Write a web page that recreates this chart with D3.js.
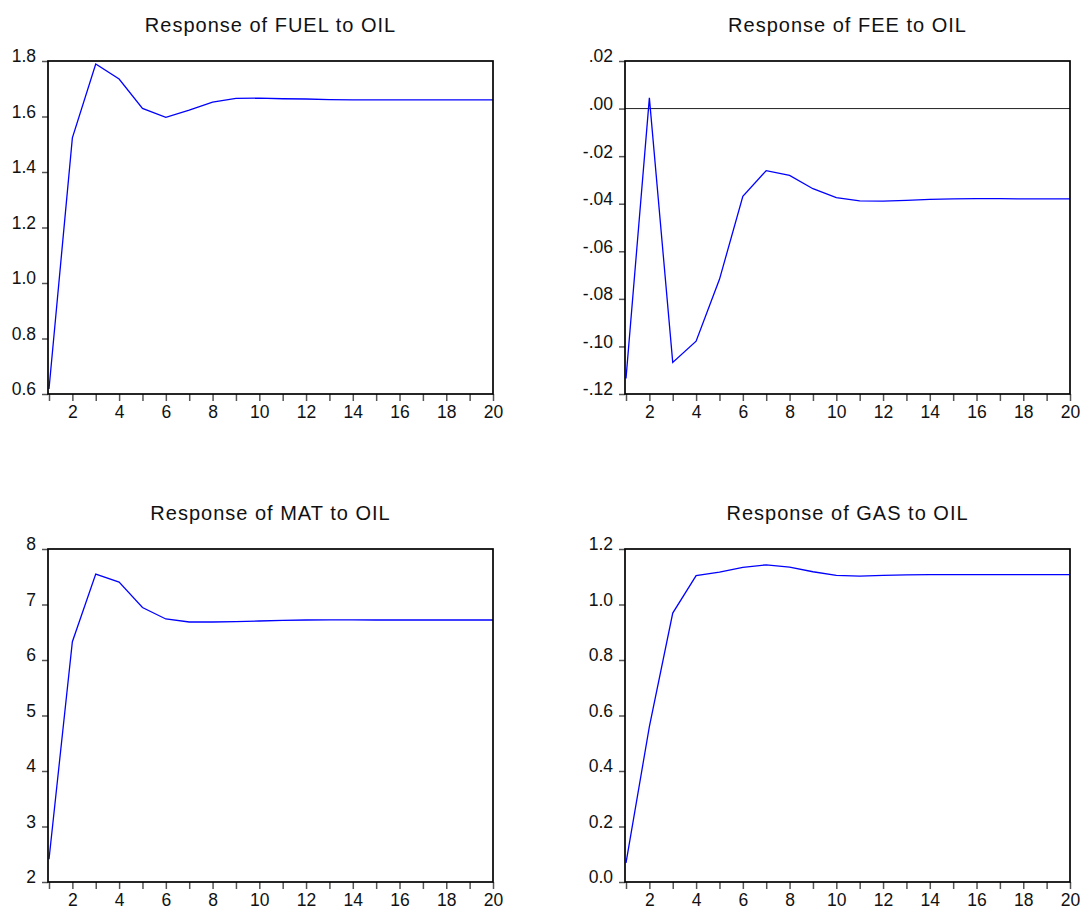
<!DOCTYPE html>
<html>
<head>
<meta charset="utf-8">
<script src="https://cdn.jsdelivr.net/npm/d3@7"></script>
<style>
  html, body { margin: 0; padding: 0; background: #fff; }
  svg { display: block; }
</style>
</head>
<body>
<svg id="chart" width="1082" height="910"></svg>
<script>
// impulse response horizon
const periods = d3.range(1, 21);
const xTickLabels = [2, 4, 6, 8, 10, 12, 14, 16, 18, 20];

// responses to OIL shock
const fuelValues = [0.618, 1.523, 1.789, 1.735, 1.629, 1.597, 1.623, 1.652, 1.665, 1.666,
                    1.664, 1.663, 1.661, 1.660, 1.660, 1.660, 1.660, 1.660, 1.660, 1.660];
const feeValues  = [-0.1135, 0.0045, -0.1067, -0.0978, -0.0718, -0.0369, -0.0261, -0.0281, -0.0337, -0.0374,
                    -0.0388, -0.0389, -0.0386, -0.0382, -0.0380, -0.0379, -0.0379, -0.0380, -0.0380, -0.0380];
const matValues  = [2.41, 6.33, 7.548, 7.403, 6.945, 6.739, 6.685, 6.685, 6.690, 6.703,
                    6.715, 6.721, 6.722, 6.722, 6.721, 6.721, 6.721, 6.721, 6.721, 6.721];
const gasValues  = [0.069, 0.560, 0.969, 1.104, 1.117, 1.134, 1.143, 1.135, 1.118, 1.105,
                    1.102, 1.105, 1.107, 1.108, 1.108, 1.108, 1.108, 1.108, 1.108, 1.108];

const titles = ["Response of FUEL to OIL", "Response of FEE to OIL",
                "Response of MAT to OIL", "Response of GAS to OIL"];

// y tick values / labels per panel
const fuelTicks = [0.6, 0.8, 1.0, 1.2, 1.4, 1.6, 1.8];
const fuelTickLabels = ["0.6", "0.8", "1.0", "1.2", "1.4", "1.6", "1.8"];
const feeTicks = [-0.12, -0.10, -0.08, -0.06, -0.04, -0.02, 0.00, 0.02];
const feeTickLabels = ["-.12", "-.10", "-.08", "-.06", "-.04", "-.02", ".00", ".02"];
const matTicks = [2, 3, 4, 5, 6, 7, 8];
const matTickLabels = ["2", "3", "4", "5", "6", "7", "8"];
const gasTicks = [0.0, 0.2, 0.4, 0.6, 0.8, 1.0, 1.2];
const gasTickLabels = ["0.0", "0.2", "0.4", "0.6", "0.8", "1.0", "1.2"];

const panels = [
  { title: titles[0], values: fuelValues, ticks: fuelTicks, labels: fuelTickLabels, zero: false },
  { title: titles[1], values: feeValues,  ticks: feeTicks,  labels: feeTickLabels,  zero: true  },
  { title: titles[2], values: matValues,  ticks: matTicks,  labels: matTickLabels,  zero: false },
  { title: titles[3], values: gasValues,  ticks: gasTicks,  labels: gasTickLabels,  zero: false }
];

// layout
const FONT = "'Liberation Sans', Arial, sans-serif";
const boxW = 445, boxH = 333;
const colX = [48, 625], rowY = [61, 549];

const svg = d3.select("#chart");

panels.forEach((p, i) => {
  const left = colX[i % 2], top = rowY[Math.floor(i / 2)];
  const g = svg.append("g").attr("transform", `translate(${left},${top})`);

  const x = d3.scaleLinear().domain([1, 20]).range([1, boxW]);
  const y = d3.scaleLinear().domain(d3.extent(p.ticks)).range([boxH, 0]);

  // title
  g.append("text")
    .attr("x", boxW / 2)
    .attr("y", -29)
    .attr("text-anchor", "middle")
    .attr("font-family", FONT)
    .attr("font-size", 20)
    .attr("letter-spacing", 1)
    .attr("fill", "#111")
    .text(p.title);

  // x axis: tick each period, label even ones
  const xAxis = g.append("g")
    .attr("transform", `translate(0,${boxH})`)
    .call(d3.axisBottom(x)
      .tickValues(periods)
      .tickSize(7)
      .tickSizeOuter(0)
      .tickFormat(d => xTickLabels.includes(d) ? d : ""));
  xAxis.select(".domain").remove();
  xAxis.selectAll("line").attr("stroke", "#555").attr("stroke-width", 1.5);
  xAxis.selectAll("text")
    .attr("font-family", FONT).attr("font-size", 17.5).attr("fill", "#111")
    .attr("dy", "0.5em").attr("y", 15);

  // y axis
  const yAxis = g.append("g")
    .call(d3.axisLeft(y)
      .tickValues(p.ticks)
      .tickSize(6)
      .tickSizeOuter(0)
      .tickFormat((d, k) => p.labels[k]));
  yAxis.select(".domain").remove();
  yAxis.selectAll("line").attr("stroke", "#555").attr("stroke-width", 1.5);
  yAxis.selectAll("text")
    .attr("font-family", FONT).attr("font-size", 17.5).attr("fill", "#111")
    .attr("x", -12).attr("dy", "0.05em");

  // zero reference line
  if (p.zero) {
    g.append("line")
      .attr("x1", 0).attr("x2", boxW)
      .attr("y1", y(0)).attr("y2", y(0))
      .attr("stroke", "#222").attr("stroke-width", 1);
  }

  // response line
  g.append("path")
    .datum(p.values)
    .attr("fill", "none")
    .attr("stroke", "#0000ff")
    .attr("stroke-width", 1.3)
    .attr("d", d3.line().x((d, k) => x(periods[k])).y(d => y(d)));

  // frame
  g.append("rect")
    .attr("x", 0).attr("y", 0)
    .attr("width", boxW).attr("height", boxH)
    .attr("fill", "none")
    .attr("stroke", "#000")
    .attr("stroke-width", 1.7);
});
</script>
</body>
</html>
